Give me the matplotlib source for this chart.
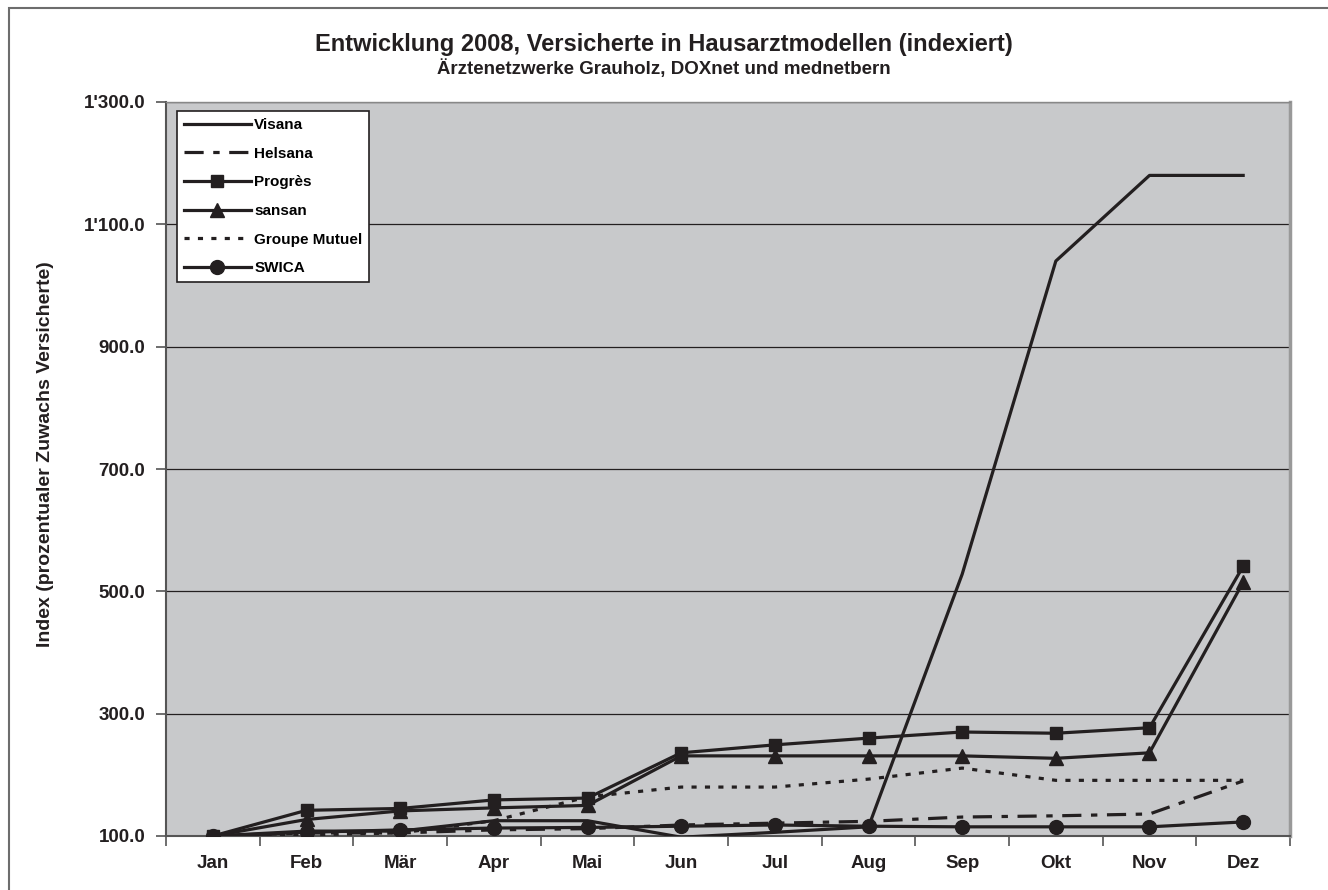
import matplotlib
matplotlib.use("Agg")
import matplotlib.pyplot as plt
from matplotlib.patches import Rectangle
from matplotlib.ticker import FixedLocator, FuncFormatter

plt.rcParams['font.family'] = ['Liberation Sans', 'DejaVu Sans']

months = ["Jan", "Feb", "Mär", "Apr", "Mai", "Jun", "Jul", "Aug", "Sep", "Okt", "Nov", "Dez"]
visana = [100, 108, 108, 125, 125, 98, 106, 115, 528, 1040, 1180, 1180]
helsana = [100, 105, 105, 110, 112, 118, 121, 124, 131, 133, 136, 190]
progres = [100, 142, 145, 159, 162, 236, 249, 260, 270, 268, 277, 541]
sansan = [100, 127, 141, 146, 150, 231, 231, 231, 231, 227, 236, 515]
groupe_mutuel = [100, 102, 105, 125, 164, 180, 180, 193, 211, 191, 191, 191]
swica = [100, 106, 110, 113, 114, 116, 118, 116, 115, 115, 115, 123]
yticks = [100, 300, 500, 700, 900, 1100, 1300]

title = "Entwicklung 2008, Versicherte in Hausarztmodellen (indexiert)"
subtitle = "Ärztenetzwerke Grauholz, DOXnet und mednetbern"
ylabel = "Index (prozentualer Zuwachs Versicherte)"

W, H = 1328, 890
fig = plt.figure(figsize=(W / 100, H / 100), dpi=100)
fig.patch.set_facecolor("white")

# outer frame
fig.patches.append(Rectangle((9 / W, -0.2), 1.2, 1 - 8 / H + 0.2, transform=fig.transFigure,
                             fill=False, edgecolor="#6d6d6d", linewidth=1.5))

left, right, top, bottom = 166, 1290, 102, 836
ax = fig.add_axes([left / W, 1 - bottom / H, (right - left) / W, (bottom - top) / H])
ax.set_facecolor("#c8c9cb")

x = list(range(len(months)))
col = "#231f20"
lw = 2.3
ax.plot(x, visana, color=col, lw=lw, label="Visana", zorder=3)
ax.plot(x, helsana, color=col, lw=lw, dashes=(6, 3, 2, 3), label="Helsana", zorder=3)
ax.plot(x, progres, color=col, lw=lw, marker="s", ms=8, label="Progrès", zorder=4)
ax.plot(x, sansan, color=col, lw=lw, marker="^", ms=10, label="sansan", zorder=4)
ax.plot(x, groupe_mutuel, color=col, lw=lw, dashes=(1.6, 2.6), label="Groupe Mutuel", zorder=3)
ax.plot(x, swica, color=col, lw=lw, marker="o", ms=10, label="SWICA", zorder=4)

ax.set_xlim(-0.5, len(months) - 0.5)
ax.set_ylim(100, 1300)
ax.yaxis.set_major_locator(FixedLocator(yticks))
ax.yaxis.set_major_formatter(FuncFormatter(lambda v, p: f"{v:,.1f}".replace(",", "'")))
ax.set_xticks(x)
ax.set_xticklabels(months)
ax.set_xticks([i + 0.5 for i in range(-1, len(months))], minor=True)
ax.tick_params(axis="x", which="major", length=0, pad=14, labelsize=13.5)
ax.tick_params(axis="x", which="minor", length=7, width=1.2, color="#555555", direction="out")
ax.tick_params(axis="y", which="major", length=7, width=1.2, color="#555555", direction="out",
               labelsize=13.5, pad=8)
for lab in ax.get_xticklabels() + ax.get_yticklabels():
    lab.set_fontweight("bold")
    lab.set_color("#231f20")

ax.grid(axis="y", color="#231f20", linewidth=0.9, zorder=1)
ax.set_axisbelow(True)

for s in ("left", "bottom"):
    ax.spines[s].set_color("#555555")
    ax.spines[s].set_linewidth(1.5)
ax.spines["top"].set_color("#888888")
ax.spines["top"].set_linewidth(1.0)
ax.spines["right"].set_color("#999999")
ax.spines["right"].set_linewidth(2.5)

ax.set_ylabel(ylabel, fontsize=14, fontweight="bold", color="#231f20")
ax.yaxis.set_label_coords((54 - left) / (right - left), 0.52)

fig.text(0.5, 1 - 45 / H, title, ha="center", va="center", fontsize=17, fontweight="bold",
         color="#231f20")
fig.text(0.5, 1 - 69 / H, subtitle, ha="center", va="center", fontsize=13.5, fontweight="bold",
         color="#231f20")

leg = ax.legend(loc="upper left", bbox_to_anchor=((177 - left) / (right - left), 1 - (111 - top) / (bottom - top)),
                borderaxespad=0, frameon=True, fancybox=False, edgecolor="#231f20",
                facecolor="white", framealpha=1, handlelength=4.4, handletextpad=0.2,
                labelspacing=0.96, borderpad=0.45, numpoints=1,
                prop={"weight": "bold", "size": 11})
leg.get_frame().set_linewidth(1.2)
leg.set_zorder(10)

fig.savefig("out.png", dpi=100, facecolor="white")
